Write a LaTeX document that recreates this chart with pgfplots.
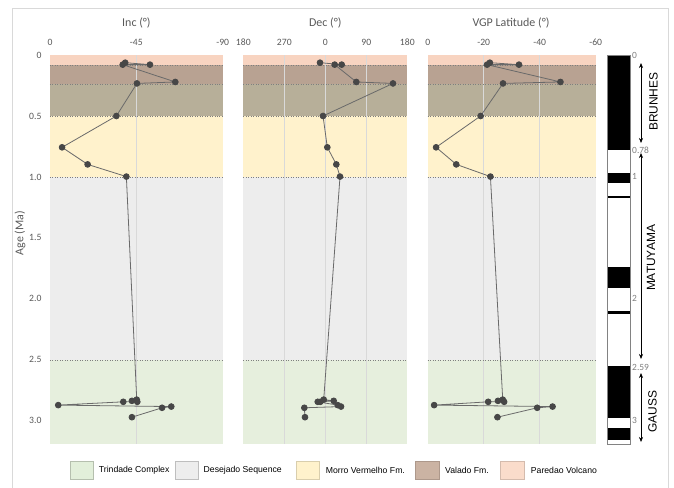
\documentclass[border=0pt]{standalone}
\usepackage{pgfplots}
\pgfplotsset{compat=1.18}
\usepackage{pgfplotstable}
\usepackage{fontspec}
\setmainfont{Carlito}
\newfontfamily\arialf{Liberation Sans}
\usetikzlibrary{arrows.meta}

\definecolor{tickgray}{HTML}{595959}
\definecolor{lblgray}{HTML}{7F7F7F}
\definecolor{gridgray}{HTML}{D9D9D9}
\definecolor{framegray}{HTML}{D9D9D9}
\definecolor{bandpar}{HTML}{F8D4C1}
\definecolor{bandval}{HTML}{B8A292}
\definecolor{bandolv}{HTML}{B7AF99}
\definecolor{bandmor}{HTML}{FFF2CC}
\definecolor{banddes}{HTML}{EDEDED}
\definecolor{bandtri}{HTML}{E6EFDD}
\definecolor{legtri}{HTML}{E2EFDA}
\definecolor{legdes}{HTML}{EDEDED}
\definecolor{legmor}{HTML}{FFF2CC}
\definecolor{legval}{HTML}{CBB3A3}
\definecolor{legpar}{HTML}{FADCCB}
\definecolor{linegray}{HTML}{6A6A6A}
\definecolor{markgray}{HTML}{474747}

\pgfplotstableread{
age   inc    dec    vgp
0.063 -39.2  -11.6  -22.2
0.079 -52.1   36.0  -32.6
0.079 -37.9   20.6  -21.2
0.221 -65.3   68.1  -47.4
0.233 -45.3  148.6  -26.9
0.500 -34.6   -5.0  -18.9
0.757  -6.3    4.4   -3.0
0.897 -19.6   24.2  -10.2
0.997 -39.8   32.3  -22.4
2.826 -45.2   -3.5  -26.8
2.836 -42.7   18.4  -25.1
2.844 -45.5  -11.0  -27.3
2.844 -38.2  -16.6  -21.6
2.871  -4.3   27.2   -2.3
2.883 -63.2   34.5  -44.6
2.893 -58.4  -46.0  -39.1
2.970 -42.7  -44.6  -24.9
}\paleo

% formation bands: left x, right x
\newcommand{\bands}[2]{%
 \addplot[fill=bandpar,draw=none] coordinates {(#1,0) (#2,0) (#2,0.085) (#1,0.085)};
 \addplot[fill=bandval,draw=none] coordinates {(#1,0.085) (#2,0.085) (#2,0.24) (#1,0.24)};
 \addplot[fill=bandolv,draw=none] coordinates {(#1,0.24) (#2,0.24) (#2,0.5) (#1,0.5)};
 \addplot[fill=bandmor,draw=none] coordinates {(#1,0.5) (#2,0.5) (#2,1.0) (#1,1.0)};
 \addplot[fill=banddes,draw=none] coordinates {(#1,1.0) (#2,1.0) (#2,2.5) (#1,2.5)};
 \addplot[fill=bandtri,draw=none] coordinates {(#1,2.5) (#2,2.5) (#2,3.19) (#1,3.19)};
}
\newcommand{\dotlines}[2]{%
 \addplot[lblgray,dotted,line width=0.5bp] coordinates {(#1,0.085) (#2,0.085)};
 \addplot[lblgray,dotted,line width=0.5bp] coordinates {(#1,0.24) (#2,0.24)};
 \addplot[lblgray,dotted,line width=0.5bp] coordinates {(#1,0.5) (#2,0.5)};
 \addplot[lblgray,dotted,line width=0.5bp] coordinates {(#1,1.0) (#2,1.0)};
 \addplot[lblgray,dotted,line width=0.5bp] coordinates {(#1,2.5) (#2,2.5)};
}
\newcommand{\vgrid}[1]{%
 \addplot[gridgray,line width=0.7bp] coordinates {(#1,0) (#1,3.19)};
}

\pgfplotsset{
 panel/.style={
  scale only axis, height=389bp, ymin=0, ymax=3.19, y dir=reverse,
  anchor=north west, axis line style={draw=none}, major tick length=0pt,
  tick style={draw=none},
  xticklabel pos=upper,
  ticklabel style={font=\fontsize{9.7}{11}\selectfont, text=tickgray},
  xticklabel style={yshift=6bp},
  yticklabel style={xshift=-5bp},
  clip=false,
 },
 dataline/.style={linegray, line width=0.8bp, mark=*, mark size=2.9bp,
  mark options={fill=markgray, draw=markgray}},
}

\begin{document}
\begin{tikzpicture}
\path[use as bounding box] (0bp,0bp) rectangle (674bp,-488bp);
\draw[framegray,line width=0.8bp] (12.7bp,-488bp) -- (12.7bp,-8.3bp) -- (668.5bp,-8.3bp) -- (668.5bp,-488bp);

% Inc panel
\begin{axis}[panel, at={(50bp,-55bp)}, width=172.7bp,
  xmin=-90, xmax=0, x dir=reverse,
  xtick={0,-45,-90}, xticklabels={0,-45,-90},
  ytick={0,0.5,1,1.5,2,2.5,3}, yticklabels={0,0.5,1.0,1.5,2.0,2.5,3.0}]
\bands{0}{-90}
\vgrid{-45}
\dotlines{0}{-90}
\addplot[dataline] table[x=inc,y=age]{\paleo};
\end{axis}

% Dec panel
\begin{axis}[panel, at={(243.3bp,-55bp)}, width=164bp,
  xmin=-180, xmax=180,
  xtick={-180,-90,0,90,180}, xticklabels={180,270,0,90,180},
  ytick=\empty]
\bands{-180}{180}
\vgrid{-90}\vgrid{0}\vgrid{90}
\dotlines{-180}{180}
\addplot[dataline] table[x=dec,y=age]{\paleo};
\end{axis}

% VGP panel
\begin{axis}[panel, at={(427.7bp,-55bp)}, width=168bp,
  xmin=-60, xmax=0, x dir=reverse,
  xtick={0,-20,-40,-60}, xticklabels={0,-20,-40,-60},
  ytick=\empty]
\bands{0}{-60}
\vgrid{-20}\vgrid{-40}
\dotlines{0}{-60}
\addplot[dataline] table[x=vgp,y=age]{\paleo};
\end{axis}

% Polarity column
\begin{axis}[panel, at={(607.7bp,-55bp)}, width=23bp,
  xmin=0, xmax=1, xtick=\empty,
  ytick={0,0.78,1,2,2.56,3}, yticklabels={0,0.78,1,2,2.59,3},
  yticklabel pos=right,
  yticklabel style={font=\fontsize{9.5}{10}\selectfont, text=lblgray, xshift=3bp}]
\addplot[fill=black,draw=none] coordinates {(0,0) (1,0) (1,0.78) (0,0.78)};
\addplot[fill=black,draw=none] coordinates {(0,0.97) (1,0.97) (1,1.05) (0,1.05)};
\addplot[fill=black,draw=none] coordinates {(0,1.155) (1,1.155) (1,1.175) (0,1.175)};
\addplot[fill=black,draw=none] coordinates {(0,1.74) (1,1.74) (1,1.91) (0,1.91)};
\addplot[fill=black,draw=none] coordinates {(0,2.10) (1,2.10) (1,2.12) (0,2.12)};
\addplot[fill=black,draw=none] coordinates {(0,2.55) (1,2.55) (1,2.98) (0,2.98)};
\addplot[fill=black,draw=none] coordinates {(0,3.06) (1,3.06) (1,3.16) (0,3.16)};
\addplot[gridgray!60!black,line width=0.5bp] coordinates {(0,0) (1,0) (1,3.19) (0,3.19) (0,0)};
\end{axis}

% chron arrows and names
\draw[black,line width=0.6bp,{Stealth[length=5bp,width=4bp]}-{Stealth[length=5bp,width=4bp]}] (641bp,-63bp) -- (641bp,-143bp);
\draw[black,line width=0.6bp,{Stealth[length=5bp,width=4bp]}-{Stealth[length=5bp,width=4bp]}] (641bp,-153bp) -- (641bp,-359bp);
\draw[black,line width=0.6bp,{Stealth[length=5bp,width=4bp]}-{Stealth[length=5bp,width=4bp]}] (641bp,-373bp) -- (641bp,-442bp);
\node[rotate=90,font=\arialf\fontsize{12}{14}\selectfont] at (653.5bp,-101.7bp) {BRUNHES};
\node[rotate=90,font=\arialf\fontsize{12}{14}\selectfont] at (651bp,-258bp) {MATUYAMA};
\node[rotate=90,font=\arialf\fontsize{12}{14}\selectfont] at (652.5bp,-411.7bp) {GAUSS};

% titles
\node[font=\fontsize{12}{14}\selectfont, text=tickgray] at (136.4bp,-22.7bp) {Inc (°)};
\node[font=\fontsize{12}{14}\selectfont, text=tickgray] at (325.3bp,-22.7bp) {Dec (°)};
\node[font=\fontsize{12}{14}\selectfont, text=tickgray] at (511bp,-22.7bp) {VGP Latitude (°)};
\node[rotate=90,font=\fontsize{12}{14}\selectfont, text=tickgray] at (20bp,-233bp) {Age (Ma)};

% legend
\begin{scope}[every node/.style={font=\arialf\fontsize{8.7}{10}\selectfont, anchor=west, inner sep=0pt}]
\filldraw[fill=legtri,draw=legtri!80!black,line width=0.4bp] (70bp,-460.7bp) rectangle (93.3bp,-479.3bp);
\node at (98.7bp,-470.3bp) {Trindade Complex};
\filldraw[fill=legdes,draw=legdes!80!black,line width=0.4bp] (175bp,-460.7bp) rectangle (198.3bp,-479.3bp);
\node at (203.5bp,-470.3bp) {Desejado Sequence};
\filldraw[fill=legmor,draw=legmor!85!black,line width=0.4bp] (296bp,-460.7bp) rectangle (319.3bp,-479.3bp);
\node at (325.7bp,-470.3bp) {Morro Vermelho Fm.};
\filldraw[fill=legval,draw=legval!85!black,line width=0.4bp] (415bp,-460.7bp) rectangle (439bp,-479.3bp);
\node at (445bp,-470.3bp) {Valado Fm.};
\filldraw[fill=legpar,draw=legpar!85!black,line width=0.4bp] (500bp,-460.7bp) rectangle (524bp,-479.3bp);
\node at (530.7bp,-470.3bp) {Paredao Volcano};
\end{scope}
\end{tikzpicture}
\end{document}
